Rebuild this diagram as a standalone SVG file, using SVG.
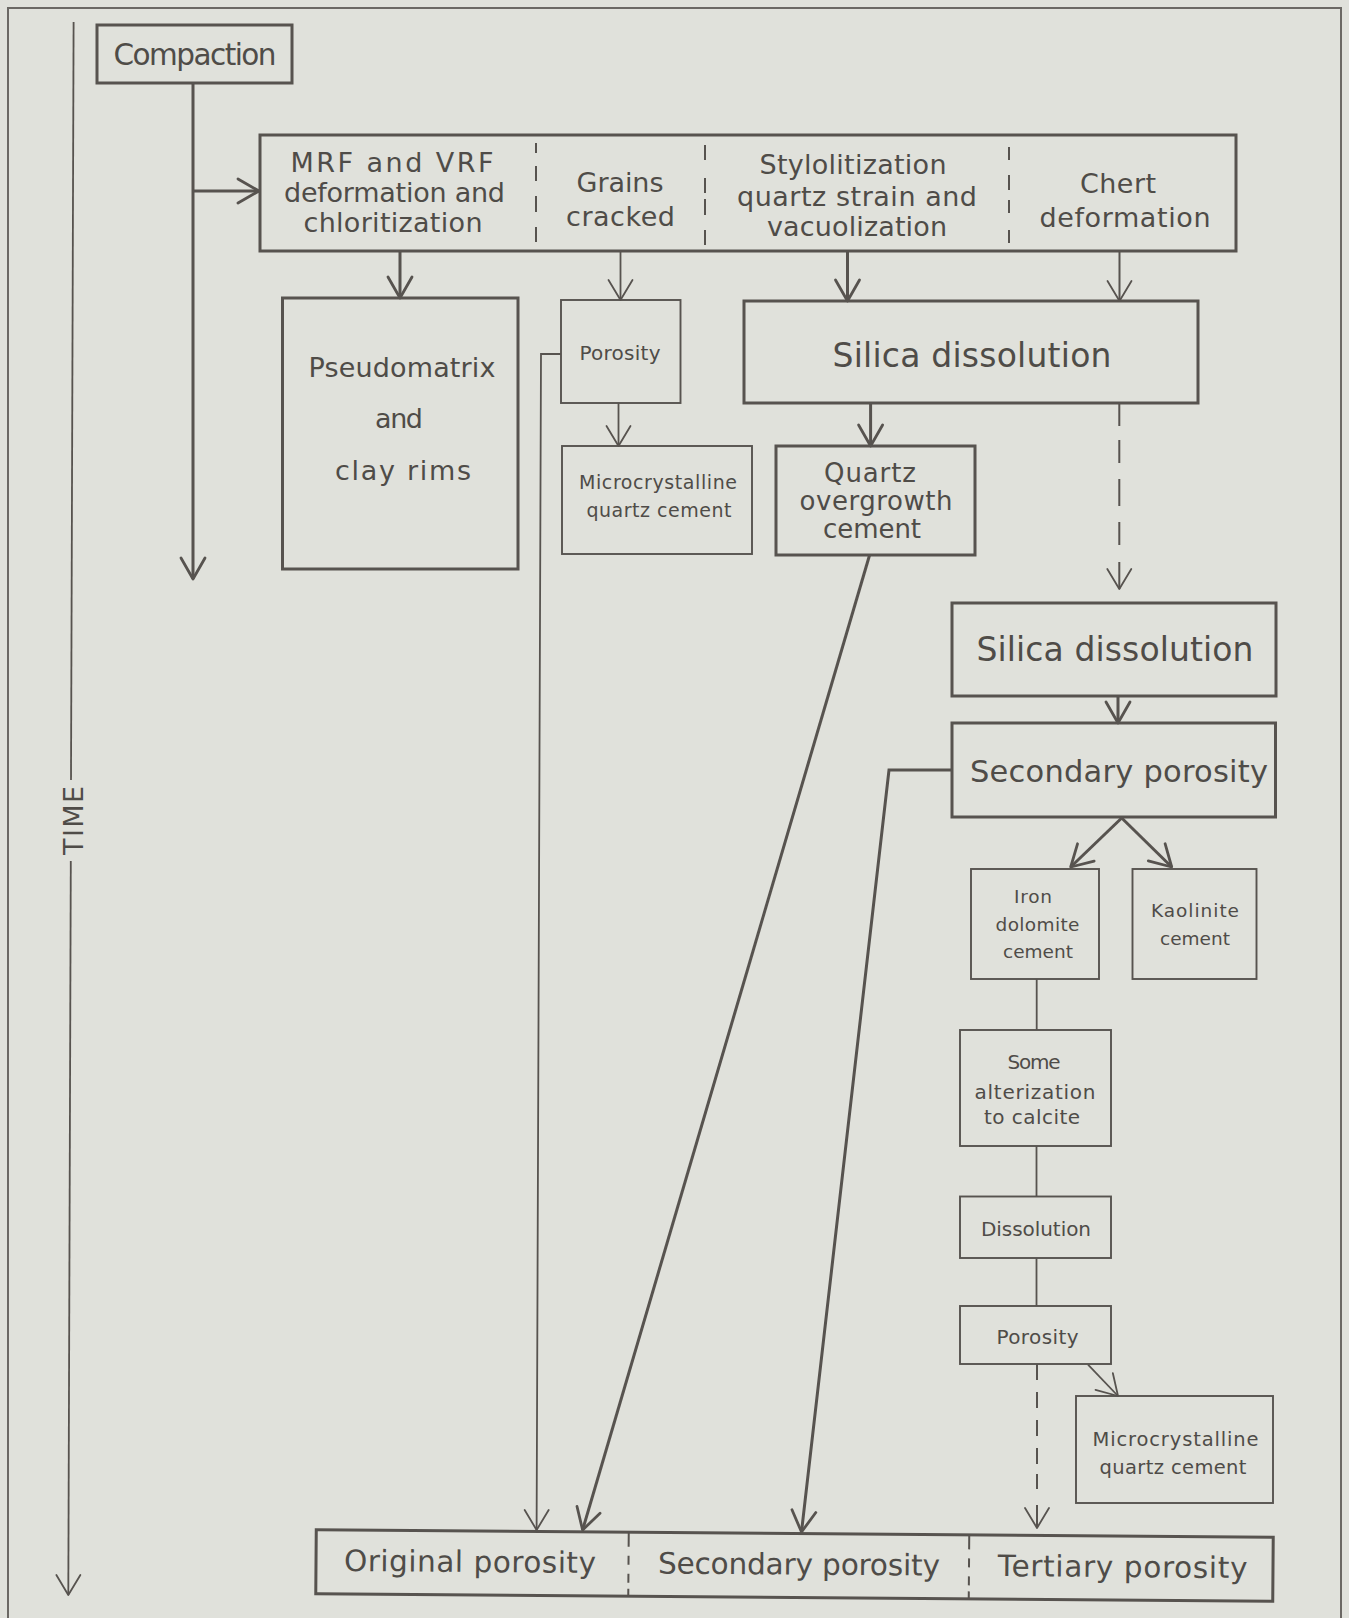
<svg xmlns="http://www.w3.org/2000/svg" width="1349" height="1618" viewBox="0 0 1349 1618">
  <defs>
    <style>
      .bx { fill: none; stroke: #57534f; stroke-width: 3; }
      .sb { fill: none; stroke: #57534f; stroke-width: 1.9; }
      .ln { fill: none; stroke: #57534f; stroke-width: 1.8; }
      .lk { fill: none; stroke: #57534f; stroke-width: 3; }
      .dv { fill: none; stroke: #57534f; stroke-width: 2; }
      .fr { fill: none; stroke: #6b6864; stroke-width: 2; }
      text { font-family: "DejaVu Sans", "Liberation Sans", sans-serif; fill: #4f4c48; text-anchor: middle; }
      .f27 { font-size: 27px; }
      .f33 { font-size: 33px; }
      .f20 { font-size: 20px; }
      .f19 { font-size: 19px; }
    </style>
    <!-- open V arrowheads -->
    <marker id="ahThin" markerUnits="userSpaceOnUse" orient="auto" overflow="visible" markerWidth="1" markerHeight="1" refX="0" refY="0">
      <path d="M-20,-12 L0,0 L-20,12" fill="none" stroke="#57534f" stroke-width="1.8" stroke-linejoin="round" stroke-linecap="round"/>
    </marker>
    <marker id="ahThick" markerUnits="userSpaceOnUse" orient="auto" overflow="visible" markerWidth="1" markerHeight="1" refX="0" refY="0">
      <path d="M-21,-12 L0,0 L-21,12" fill="none" stroke="#57534f" stroke-width="2.8" stroke-linejoin="round" stroke-linecap="round"/>
    </marker>
  </defs>

  <rect x="0" y="0" width="1349" height="1618" fill="#e0e1db"/>

  <!-- page frame -->
  <path class="fr" d="M8,1618 V8 H1341 V1618"/>

  <!-- time axis -->
  <g id="time-axis">
    <path class="ln" d="M73.6,22 L71,780"/>
    <path class="ln" d="M70.8,861 L68.3,1595" marker-end="url(#ahThin)"/>
    <text transform="translate(83,820.5) rotate(-90)" x="0" y="0" font-size="27" textLength="69">TIME</text>
  </g>

  <!-- connectors -->
  <g id="connectors">
    <path class="lk" d="M193,83 V579" stroke-width="2.6" marker-end="url(#ahThick)"/>
    <path class="lk" d="M193,191 H259" stroke-width="2.6" marker-end="url(#ahThick)"/>
    <path class="lk" d="M400,251 V298" marker-end="url(#ahThick)"/>
    <path class="ln" d="M620.5,251 V300" marker-end="url(#ahThin)"/>
    <path class="lk" d="M847.5,251 V301" marker-end="url(#ahThick)"/>
    <path class="dv" d="M1119.5,251 V301" marker-end="url(#ahThin)"/>
    <path class="ln" d="M618.5,403 V446" marker-end="url(#ahThin)"/>
    <path class="ln" d="M561,354 H541 L536.6,1530" marker-end="url(#ahThin)"/>
    <path class="lk" d="M870.6,403 V446" marker-end="url(#ahThick)"/>
    <path class="dv" d="M1119.3,404 V426 M1119.3,440 V463 M1119.3,479 V506 M1119.3,522 V545 M1119.3,562 V589" marker-end="url(#ahThin)"/>
    <path class="lk" d="M1118,696 V723" marker-end="url(#ahThick)"/>
    <path class="lk" d="M869.6,555 L582.6,1530" marker-end="url(#ahThick)"/>
    <path class="lk" d="M952,770 H889 L801.5,1532" marker-end="url(#ahThick)"/>
    <path class="lk" d="M1121.7,818 L1070.7,867" marker-end="url(#ahThick)"/>
    <path class="lk" d="M1121.7,818 L1171.7,867" marker-end="url(#ahThick)"/>
    <path class="ln" d="M1036.7,979 V1030"/>
    <path class="ln" d="M1036.5,1146 V1196.5"/>
    <path class="ln" d="M1036.5,1258 V1306"/>
    <path class="dv" d="M1037,1364 V1380 M1037,1392 V1408 M1037,1420 V1436 M1037,1448 V1464 M1037,1474 V1489 M1037,1505 V1528" marker-end="url(#ahThin)"/>
    <path class="ln" d="M1088,1364.6 L1118,1396" marker-end="url(#ahThin)"/>
  </g>

  <!-- nodes -->
  <g id="compaction">
    <rect class="bx" x="97" y="25" width="195" height="58"/>
    <text x="195" y="65" font-size="29.5" textLength="163">Compaction</text>
  </g>

  <g id="early-processes">
    <rect class="bx" x="260" y="135" width="976" height="116"/>
    <path class="dv" d="M536,143 V153 M536,166 V181 M536,196 V212 M536,227 V242"/>
    <path class="dv" d="M705,145 V160 M705,178 V193 M705,199 V215 M705,230 V245"/>
    <path class="dv" d="M1009,147 V160 M1009,175 V190 M1009,200 V213 M1009,230 V243"/>
    <text class="f27" x="392" y="172" textLength="203">MRF and VRF</text>
    <text class="f27" x="394.5" y="202" textLength="221">deformation and</text>
    <text class="f27" x="393" y="232" textLength="179">chloritization</text>
    <text class="f27" x="620" y="192" textLength="87">Grains</text>
    <text class="f27" x="620.5" y="226" textLength="109">cracked</text>
    <text class="f27" x="853" y="174" textLength="187">Stylolitization</text>
    <text class="f27" x="857" y="206" textLength="240">quartz strain and</text>
    <text class="f27" x="857" y="236" textLength="180">vacuolization</text>
    <text class="f27" x="1118" y="193" textLength="76">Chert</text>
    <text class="f27" x="1125" y="227" textLength="171">deformation</text>
  </g>

  <g id="pseudomatrix">
    <rect class="bx" x="282.5" y="298" width="235.5" height="271"/>
    <text class="f27" x="402" y="377" textLength="187">Pseudomatrix</text>
    <text class="f27" x="399" y="428" textLength="48">and</text>
    <text class="f27" x="403" y="480" textLength="136">clay rims</text>
  </g>

  <g id="porosity-1">
    <rect class="sb" x="561" y="300" width="119.5" height="103"/>
    <text class="f20" x="620" y="360" textLength="81">Porosity</text>
  </g>

  <g id="microcrystalline-1">
    <rect class="sb" x="562" y="446" width="190" height="108"/>
    <text class="f19" x="658" y="489" textLength="158">Microcrystalline</text>
    <text class="f19" x="659" y="517" textLength="145">quartz cement</text>
  </g>

  <g id="silica-dissolution-1">
    <rect class="bx" x="744" y="301" width="454" height="102"/>
    <text class="f33" x="972" y="367" textLength="279">Silica dissolution</text>
  </g>

  <g id="quartz-overgrowth">
    <rect class="bx" x="776" y="446" width="199" height="109"/>
    <text x="870" y="482" font-size="26" textLength="92">Quartz</text>
    <text x="876" y="510" font-size="26" textLength="153">overgrowth</text>
    <text x="872" y="538" font-size="26" textLength="98">cement</text>
  </g>

  <g id="silica-dissolution-2">
    <rect class="bx" x="952" y="603" width="324" height="93"/>
    <text class="f33" x="1115" y="661" textLength="277">Silica dissolution</text>
  </g>

  <g id="secondary-porosity">
    <rect class="bx" x="952" y="723" width="323.5" height="94"/>
    <text x="1119" y="782" font-size="30.5" textLength="298">Secondary porosity</text>
  </g>

  <g id="iron-dolomite">
    <rect class="sb" x="971" y="869" width="128" height="110"/>
    <text x="1033" y="903" font-size="18.5" textLength="38">Iron</text>
    <text x="1037.5" y="931" font-size="18.5" textLength="84">dolomite</text>
    <text x="1038" y="958" font-size="18.5" textLength="70">cement</text>
  </g>

  <g id="kaolinite">
    <rect class="sb" x="1132.5" y="869" width="124" height="110"/>
    <text x="1195" y="917" font-size="18.5" textLength="88">Kaolinite</text>
    <text x="1195" y="945" font-size="18.5" textLength="70">cement</text>
  </g>

  <g id="alterization">
    <rect class="sb" x="960" y="1030" width="151" height="116"/>
    <text class="f20" x="1034" y="1069" textLength="53">Some</text>
    <text class="f20" x="1035" y="1099" textLength="121">alterization</text>
    <text class="f20" x="1032" y="1124" textLength="96">to calcite</text>
  </g>

  <g id="dissolution">
    <rect class="sb" x="960" y="1196.5" width="151" height="61.5"/>
    <text class="f20" x="1036" y="1236" textLength="110">Dissolution</text>
  </g>

  <g id="porosity-2">
    <rect class="sb" x="960" y="1306" width="151" height="58"/>
    <text class="f20" x="1037.5" y="1344" textLength="82">Porosity</text>
  </g>

  <g id="microcrystalline-2">
    <rect class="sb" x="1076" y="1396" width="197" height="107"/>
    <text x="1175.5" y="1446" font-size="19.5" textLength="166">Microcrystalline</text>
    <text x="1173" y="1474" font-size="19.5" textLength="147">quartz cement</text>
  </g>

  <g id="porosity-types" transform="rotate(0.45 794.5 1565.5)">
    <rect class="bx" x="316" y="1533.5" width="957" height="64" stroke-width="3.4"/>
    <path class="dv" d="M628.5,1533.5 V1548 M628.5,1557 V1566 M628.5,1575 V1584 M628.5,1590 V1597.5"/>
    <path class="dv" d="M969,1533.5 V1548 M969,1557 V1566 M969,1575 V1584 M969,1590 V1597.5"/>
    <text x="470" y="1574.5" font-size="29.5" textLength="252">Original porosity</text>
    <text x="799" y="1574.5" font-size="29.5" textLength="282">Secondary porosity</text>
    <text x="1122.7" y="1574.5" font-size="29.5" textLength="249.5">Tertiary porosity</text>
  </g>
</svg>
